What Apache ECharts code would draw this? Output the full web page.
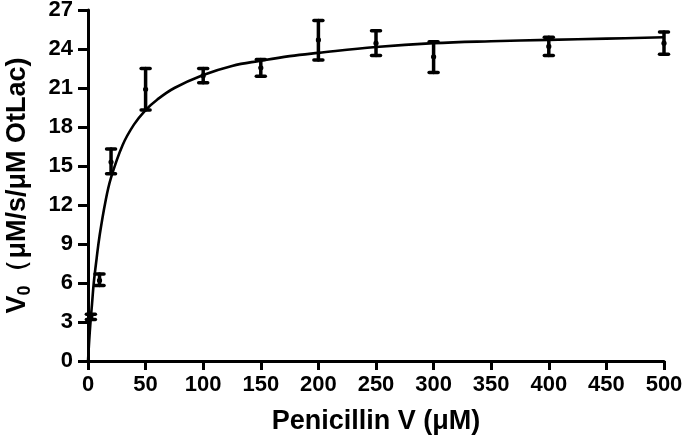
<!DOCTYPE html>
<html>
<head>
<meta charset="utf-8">
<script src="https://cdn.jsdelivr.net/npm/echarts@6/dist/echarts.min.js"></script>
<style>
html,body{margin:0;padding:0;background:#fff;}
#chart{width:685px;height:444px;}
</style>
</head>
<body>
<div id="chart"></div>
<script>
// Measured points: substrate concentration, mean, error-bar low, error-bar high
const xValues     = [2.5, 10, 20, 50, 100, 150, 200, 250, 300, 400, 500];
const meanValues  = [3.4, 6.2, 15.3, 20.9, 21.95, 22.55, 24.7, 24.45, 23.4, 24.2, 24.45];
const lowerValues = [3.2, 5.8, 14.4, 19.3, 21.4, 21.9, 23.15, 23.5, 22.2, 23.5, 23.6];
const upperValues = [3.6, 6.7, 16.3, 22.5, 22.5, 23.2, 26.2, 25.4, 24.55, 24.9, 25.3];

// Fitted curve
const fitX = [0, 1, 2, 3.5, 5, 7.5, 10, 15, 20, 30, 40, 50, 60, 75, 100, 125, 150, 175, 200, 250, 300, 350, 400, 450, 500];
const fitY = [0, 1.5, 2.8, 4.4, 6.0, 7.9, 9.6, 12.2, 14.1, 16.6, 18.2, 19.3, 20.1, 21.0, 22.0, 22.7, 23.1, 23.45, 23.7, 24.15, 24.45, 24.6, 24.7, 24.8, 24.9];

const FONT = '"Liberation Sans", Arial, sans-serif';

const errData = xValues.map((x, i) => [x, meanValues[i], lowerValues[i], upperValues[i]]);
const fitData = fitX.map((x, i) => [x, fitY[i]]);

const chart = echarts.init(document.getElementById('chart'), null, {renderer: 'canvas'});
chart.setOption({
  backgroundColor: '#fff',
  animation: false,
  grid: {left: 88, right: 21, top: 10, bottom: 83, containLabel: false, outerBoundsMode: 'none'},
  xAxis: {
    type: 'value', min: 0, max: 500, interval: 50,
    name: 'Penicillin V (μM)', nameLocation: 'middle', nameGap: 47,
    nameTextStyle: {fontFamily: FONT, fontWeight: 'bold', fontSize: 27, color: '#000'},
    axisLine: {show: true, onZero: false, lineStyle: {color: '#000', width: 3}},
    axisTick: {show: true, length: 9, lineStyle: {color: '#000', width: 3}},
    axisLabel: {fontFamily: FONT, fontWeight: 'bold', fontSize: 22, color: '#000', margin: 13},
    splitLine: {show: false}
  },
  yAxis: {
    type: 'value', min: 0, max: 27, interval: 3,
    name: '{a|V}{b|0}{a|（μM/s/μM OtLac)}',
    nameLocation: 'middle', nameRotate: 90, nameGap: 57,
    nameTextStyle: {
      fontFamily: FONT, fontWeight: 'bold', fontSize: 27, color: '#000',
      rich: {
        a: {fontFamily: FONT, fontWeight: 'bold', fontSize: 27, color: '#000', lineHeight: 30, verticalAlign: 'bottom'},
        b: {fontFamily: FONT, fontWeight: 'bold', fontSize: 18, color: '#000', lineHeight: 30, verticalAlign: 'bottom', padding: [0, 0, -3, 0]}
      }
    },
    axisLine: {show: true, onZero: false, lineStyle: {color: '#000', width: 3}},
    axisTick: {show: true, length: 10, lineStyle: {color: '#000', width: 3}},
    axisLabel: {fontFamily: FONT, fontWeight: 'bold', fontSize: 22, color: '#000', margin: 15},
    splitLine: {show: false}
  },
  series: [
    {
      type: 'line', data: fitData, smooth: 0.4, symbol: 'none',
      lineStyle: {color: '#000', width: 2.6}, z: 2
    },
    {
      type: 'custom', data: errData, z: 3,
      renderItem: function (params, api) {
        const x = api.value(0);
        const pM = api.coord([x, api.value(1)]);
        const pLo = api.coord([x, api.value(2)]);
        const pHi = api.coord([x, api.value(3)]);
        const hw = 4.5;
        const st = {stroke: '#000', lineWidth: 3.5, lineCap: 'round'};
        const cap = {stroke: '#000', lineWidth: 3.5, lineCap: 'round'};
        return {
          type: 'group',
          children: [
            {type: 'line', shape: {x1: pLo[0], y1: pLo[1], x2: pHi[0], y2: pHi[1]}, style: st},
            {type: 'line', shape: {x1: pHi[0] - hw, y1: pHi[1], x2: pHi[0] + hw, y2: pHi[1]}, style: cap},
            {type: 'line', shape: {x1: pLo[0] - hw, y1: pLo[1], x2: pLo[0] + hw, y2: pLo[1]}, style: cap},
            {type: 'circle', shape: {cx: pM[0], cy: pM[1], r: 2.6}, style: {fill: '#000'}}
          ]
        };
      }
    }
  ]
});
</script>
</body>
</html>
